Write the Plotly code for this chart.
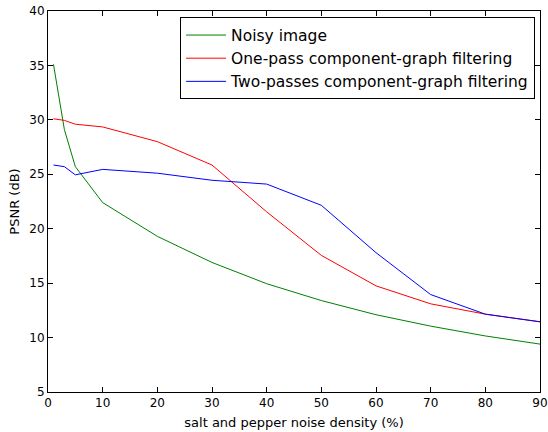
import plotly.graph_objects as go

density = [1, 3, 5, 10, 20, 30, 40, 50, 60, 70, 80, 90]
noisy = [35.1, 29.1, 25.7, 22.4, 19.3, 16.9, 14.95, 13.4, 12.1, 11.05, 10.15, 9.4]
one_pass = [30.1, 29.95, 29.6, 29.35, 28.0, 25.85, 21.55, 17.55, 14.75, 13.1, 12.15, 11.45]
two_pass = [25.85, 25.7, 24.95, 25.45, 25.1, 24.45, 24.1, 22.15, 17.8, 13.95, 12.15, 11.45]

names = ["Noisy image", "One-pass component-graph filtering", "Two-passes component-graph filtering"]
colors = ["#008000", "#ff0000", "#0000ff"]

fig = go.Figure()
for i, (name, ys, c) in enumerate(zip(names, [noisy, one_pass, two_pass], colors)):
    fig.add_trace(go.Scatter(x=density, y=ys, mode="lines", name=name,
                             line=dict(color=c, width=1), legendgroup=f"g{i}"))

font = dict(family="DejaVu Sans", size=12, color="black")
axis_common = dict(showgrid=False, zeroline=False, showline=True, linecolor="black",
                   linewidth=1, mirror="ticks", ticks="inside", ticklen=5,
                   tickcolor="black", tickfont=font, automargin=False)

fig.update_layout(
    width=548, height=432,
    margin=dict(l=48, r=8, t=11, b=40),
    paper_bgcolor="white", plot_bgcolor="white",
    font=font,
    xaxis=dict(range=[0, 90], tickvals=list(range(0, 91, 10)),
               title=dict(text="salt and pepper noise density (%)", font=dict(family="DejaVu Sans", size=13), standoff=8),
               **axis_common),
    yaxis=dict(range=[5, 40], tickvals=list(range(5, 41, 5)),
               title=dict(text="PSNR (dB)", font=dict(family="DejaVu Sans", size=13), standoff=6),
               **axis_common),
    legend=dict(x=0.99, y=0.983, xanchor="right", yanchor="top",
                bgcolor="white", bordercolor="black", borderwidth=1,
                font=dict(family="DejaVu Sans", size=15.5, color="black"),
                traceorder="grouped", tracegroupgap=0, itemwidth=40),
    showlegend=True,
)

fig.write_html("out.html", config={"displayModeBar": False},
               post_script="document.body.style.margin='0';")
